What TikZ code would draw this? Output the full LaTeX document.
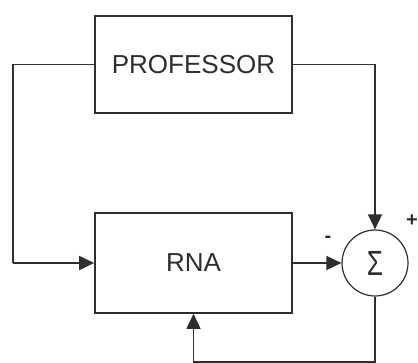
\documentclass[tikz,border=0pt]{standalone}
\usepackage{fontspec}
\setmainfont{Liberation Sans}
\usetikzlibrary{arrows.meta}
\definecolor{ink}{HTML}{2E2E2E}
\tikzset{
  blk/.style={draw=ink, line width=1.6pt, minimum width=197pt, minimum height=97pt, inner sep=0pt, text=ink, font=\fontsize{26}{26}\selectfont},
  sumnode/.style={circle, draw=ink, line width=1.2pt, minimum size=66pt, inner sep=0pt, text=ink},
  wire/.style={draw=ink, line width=1.6pt},
  arr/.style={wire, -{Triangle[length=15pt,width=14pt]}},
  sgn/.style={text=ink, font=\bfseries\fontsize{20}{20}\selectfont, inner sep=0pt}
}
\begin{document}
\begin{tikzpicture}[x=1pt,y=-1pt]
\useasboundingbox (0,0) rectangle (418,363);
\node[blk] (prof) at (193.5,64.5) {PROFESSOR};
\node[blk, minimum height=100pt] (rna) at (193.5,263) {RNA};
\node[sumnode] (sum) at (375,263) {\scalebox{0.75}[1]{\fontsize{35}{35}\selectfont Σ}};
\coordinate (lt) at (13,64.5);
\coordinate (lb) at (13,263);
\coordinate (br) at (375,362);
\draw[wire] (prof.west) -- (lt) -- (lb);
\draw[arr] (lb) -- (rna.west);
\draw[arr] (prof.east) -| (sum.north);
\draw[arr] (rna.east) -- (sum.west);
\draw[arr] (sum.south) -- (br) -| (rna.south);
\node[sgn] (plus) at (412,221) {+};
\node[sgn] (minus) at (328,239) {-};
\end{tikzpicture}
\end{document}
